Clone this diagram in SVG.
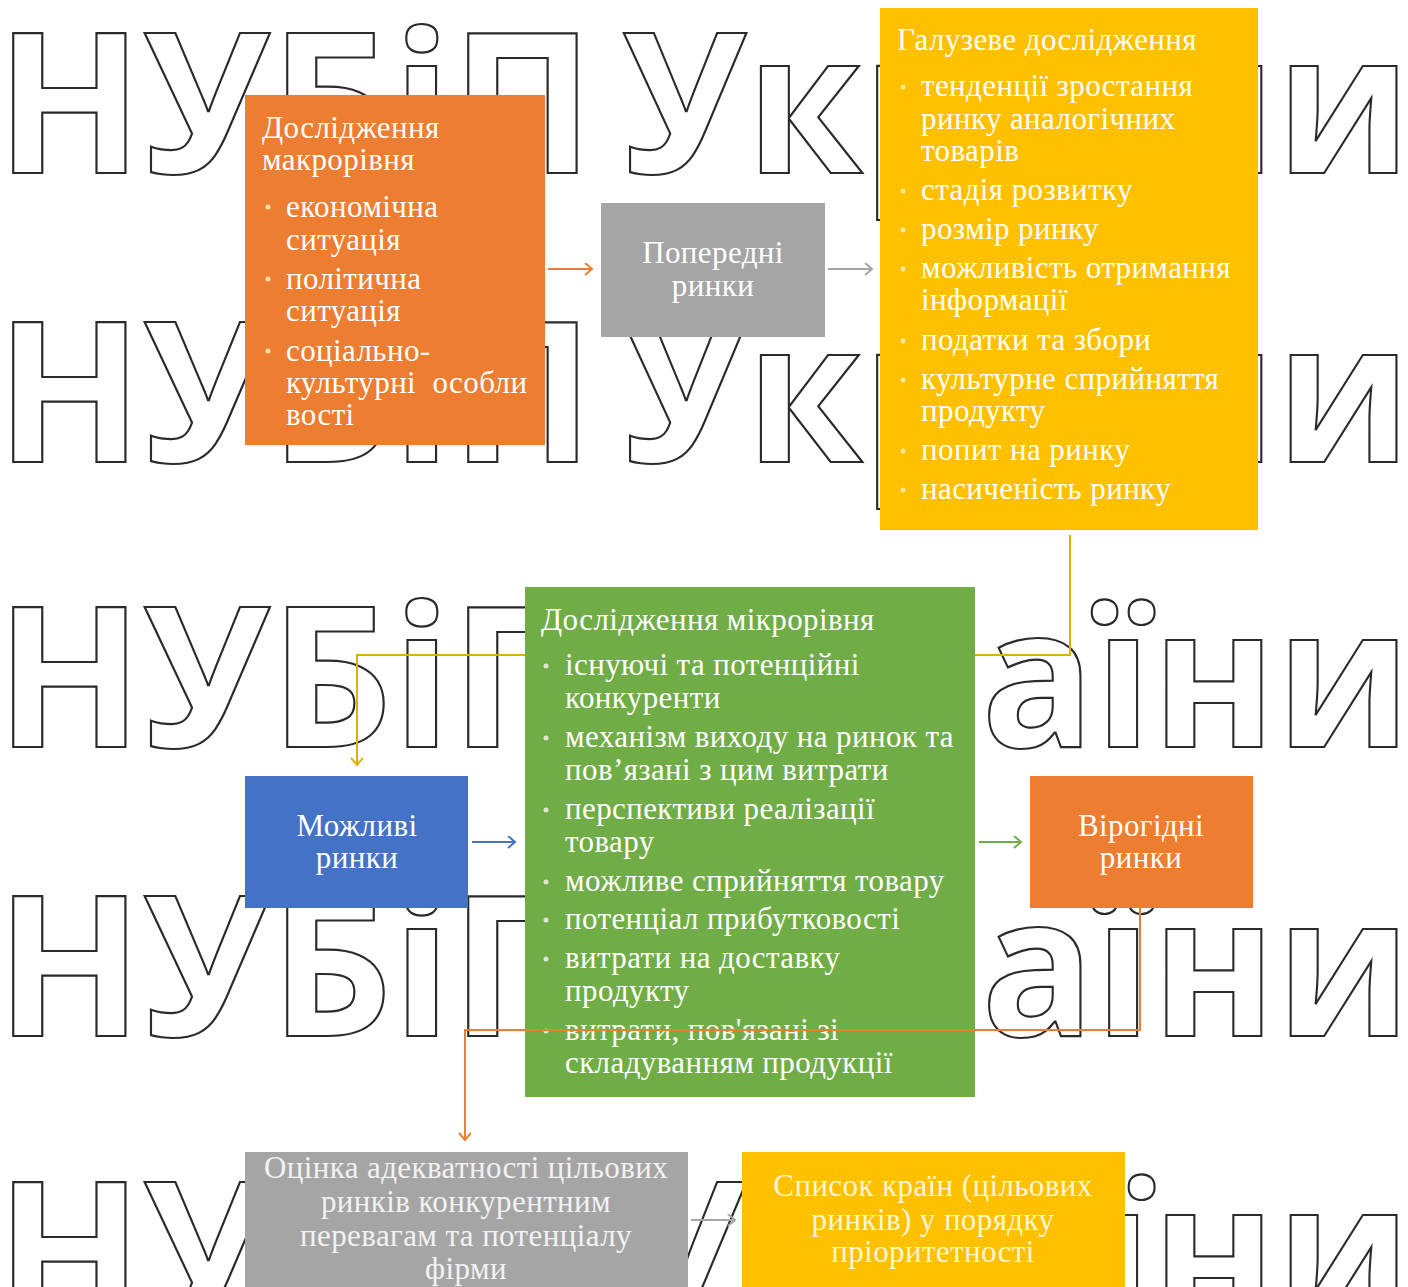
<svg xmlns="http://www.w3.org/2000/svg" width="1408" height="1287" viewBox="0 0 1408 1287">
<defs>
<style>
.wm{font-family:"Open Sans","DejaVu Sans",sans-serif;font-weight:bold;font-size:196px;fill:#fff;stroke:#2a2a2a;stroke-width:2.2;}
.t{font-family:"Liberation Serif","Times New Roman",serif;font-size:31px;letter-spacing:0.4px;fill:#fff;}
.c{text-anchor:middle;}
.conn{fill:none;stroke-width:2;}
</style>
<marker id="mOr" markerWidth="14" markerHeight="14" refX="9" refY="6" orient="auto" markerUnits="userSpaceOnUse"><path d="M2,0 L9,6 L2,12" fill="none" stroke="#ED7D31" stroke-width="2"/></marker>
<marker id="mGr" markerWidth="14" markerHeight="14" refX="9" refY="6" orient="auto" markerUnits="userSpaceOnUse"><path d="M2,0 L9,6 L2,12" fill="none" stroke="#A5A5A5" stroke-width="2"/></marker>
<marker id="mBl" markerWidth="14" markerHeight="14" refX="9" refY="6" orient="auto" markerUnits="userSpaceOnUse"><path d="M2,0 L9,6 L2,12" fill="none" stroke="#4472C4" stroke-width="2"/></marker>
<marker id="mGn" markerWidth="14" markerHeight="14" refX="9" refY="6" orient="auto" markerUnits="userSpaceOnUse"><path d="M2,0 L9,6 L2,12" fill="none" stroke="#70AD47" stroke-width="2"/></marker>
<marker id="mGd" markerWidth="14" markerHeight="14" refX="9" refY="6" orient="auto" markerUnits="userSpaceOnUse"><path d="M2,0 L9,6 L2,12" fill="none" stroke="#E0B000" stroke-width="2"/></marker>
</defs>
<rect width="1408" height="1287" fill="#fff"/>
<g id="watermark">
<g id="wm-left">
<text class="wm" x="-4" y="173" textLength="598" lengthAdjust="spacingAndGlyphs">НУБіП</text>
<text class="wm" x="-4" y="462" textLength="598" lengthAdjust="spacingAndGlyphs">НУБіП</text>
<text class="wm" x="-4" y="747" textLength="598" lengthAdjust="spacingAndGlyphs">НУБіП</text>
<text class="wm" x="-4" y="1036" textLength="598" lengthAdjust="spacingAndGlyphs">НУБіП</text>
<text class="wm" x="-4" y="1322" textLength="598" lengthAdjust="spacingAndGlyphs">НУБіП</text>
</g>
<g id="wm-right">
<text class="wm" x="622" y="173" textLength="789" lengthAdjust="spacingAndGlyphs">України</text>
<text class="wm" x="622" y="462" textLength="789" lengthAdjust="spacingAndGlyphs">України</text>
<text class="wm" x="622" y="747" textLength="789" lengthAdjust="spacingAndGlyphs">України</text>
<text class="wm" x="622" y="1036" textLength="789" lengthAdjust="spacingAndGlyphs">України</text>
<text class="wm" x="622" y="1322" textLength="789" lengthAdjust="spacingAndGlyphs">України</text>
</g>
</g>
<g id="macro">
<rect x="245" y="95" width="300" height="350" fill="#ED7D31"/>
<text class="t" x="262" y="138">Дослідження</text>
<text class="t" x="262" y="170">макрорівня</text>
<g fill="#FCE4A6"><circle cx="268" cy="207" r="2.5"/><circle cx="268" cy="279" r="2.5"/><circle cx="268" cy="351" r="2.5"/></g>
<text class="t" x="286" y="217">економічна</text>
<text class="t" x="286" y="250">ситуація</text>
<text class="t" x="286" y="289">політична</text>
<text class="t" x="286" y="321">ситуація</text>
<text class="t" x="286" y="361">соціально-</text>
<text class="t" x="286" y="393">культурні&#160; особли</text>
<text class="t" x="286" y="425">вості</text>
</g>
<g id="prev">
<rect x="601" y="203" width="224" height="134" fill="#A5A5A5"/>
<text class="t c" x="713" y="263">Попередні</text>
<text class="t c" x="713" y="296">ринки</text>
</g>
<g id="industry">
<rect x="880" y="8" width="378" height="522" fill="#FFC000"/>
<text class="t" x="897" y="50">Галузеве дослідження</text>
<g fill="#FFE8A0"><circle cx="903" cy="87" r="2.5"/><circle cx="903" cy="191" r="2.5"/><circle cx="903" cy="230" r="2.5"/><circle cx="903" cy="269" r="2.5"/><circle cx="903" cy="341" r="2.5"/><circle cx="903" cy="380" r="2.5"/><circle cx="903" cy="451" r="2.5"/><circle cx="903" cy="490" r="2.5"/></g>
<text class="t" x="921" y="96">тенденції зростання</text>
<text class="t" x="921" y="129">ринку аналогічних</text>
<text class="t" x="921" y="161">товарів</text>
<text class="t" x="921" y="200">стадія розвитку</text>
<text class="t" x="921" y="239">розмір ринку</text>
<text class="t" x="921" y="278">можливість отримання</text>
<text class="t" x="921" y="310">інформації</text>
<text class="t" x="921" y="350">податки та збори</text>
<text class="t" x="921" y="389">культурне сприйняття</text>
<text class="t" x="921" y="421">продукту</text>
<text class="t" x="921" y="460">попит на ринку</text>
<text class="t" x="921" y="499">насиченість ринку</text>
</g>
<g id="micro">
<rect x="525" y="587" width="450" height="510" fill="#70AD47"/>
<text class="t" x="541" y="630">Дослідження мікрорівня</text>
<g fill="#DCE6D4"><circle cx="546" cy="666" r="2.5"/><circle cx="546" cy="738" r="2.5"/><circle cx="546" cy="810" r="2.5"/><circle cx="546" cy="882" r="2.5"/><circle cx="546" cy="920" r="2.5"/><circle cx="546" cy="959" r="2.5"/><circle cx="546" cy="1031" r="2.5"/></g>
<text class="t" x="565" y="675">існуючі та потенційні</text>
<text class="t" x="565" y="708">конкуренти</text>
<text class="t" x="565" y="747">механізм виходу на ринок та</text>
<text class="t" x="565" y="780">пов’язані з цим витрати</text>
<text class="t" x="565" y="819">перспективи реалізації</text>
<text class="t" x="565" y="852">товару</text>
<text class="t" x="565" y="891">можливе сприйняття товару</text>
<text class="t" x="565" y="929">потенціал прибутковості</text>
<text class="t" x="565" y="968">витрати на доставку</text>
<text class="t" x="565" y="1001">продукту</text>
<text class="t" x="565" y="1040">витрати, пов'язані зі</text>
<text class="t" x="565" y="1073">складуванням продукції</text>
</g>
<g id="possible">
<rect x="245" y="776" width="223" height="132" fill="#4472C4"/>
<text class="t c" x="357" y="836">Можливі</text>
<text class="t c" x="357" y="868">ринки</text>
</g>
<g id="probable">
<rect x="1030" y="776" width="223" height="132" fill="#ED7D31"/>
<text class="t c" x="1141" y="836">Вірогідні</text>
<text class="t c" x="1141" y="868">ринки</text>
</g>
<g id="assessment">
<rect x="245" y="1152" width="443" height="140" fill="#A5A5A5"/>
<text class="t c" x="466" y="1178" style="fill:#F2F2F2">Оцінка адекватності цільових</text>
<text class="t c" x="466" y="1212" style="fill:#F2F2F2">ринків конкурентним</text>
<text class="t c" x="466" y="1246" style="fill:#F2F2F2">перевагам та потенціалу</text>
<text class="t c" x="466" y="1279" style="fill:#F2F2F2">фірми</text>
</g>
<g id="list">
<rect x="742" y="1152" width="383" height="140" fill="#FFC000"/>
<text class="t c" x="933" y="1196" style="fill:#FFF6D8">Список країн (цільових</text>
<text class="t c" x="933" y="1230" style="fill:#FFF6D8">ринків) у порядку</text>
<text class="t c" x="933" y="1262" style="fill:#FFF6D8">пріоритетності</text>
</g>
<g id="connectors">
<path class="conn" stroke="#ED7D31" d="M548,269 H592" marker-end="url(#mOr)"/>
<path class="conn" stroke="#A5A5A5" d="M828,269 H872" marker-end="url(#mGr)"/>
<path class="conn" stroke="#E0B000" d="M1070,535 V655 H975"/>
<path class="conn" stroke="#E0B000" d="M525,655 H357 V765" marker-end="url(#mGd)"/>
<path class="conn" stroke="#4472C4" d="M472,842 H515" marker-end="url(#mBl)"/>
<path class="conn" stroke="#70AD47" d="M979,842 H1021" marker-end="url(#mGn)"/>
<path class="conn" stroke="#ED7D31" d="M1140,908 V1030 H465 V1140" marker-end="url(#mOr)"/>
<path class="conn" stroke="#A5A5A5" d="M691,1220 H735" marker-end="url(#mGr)"/>
</g>
</svg>
